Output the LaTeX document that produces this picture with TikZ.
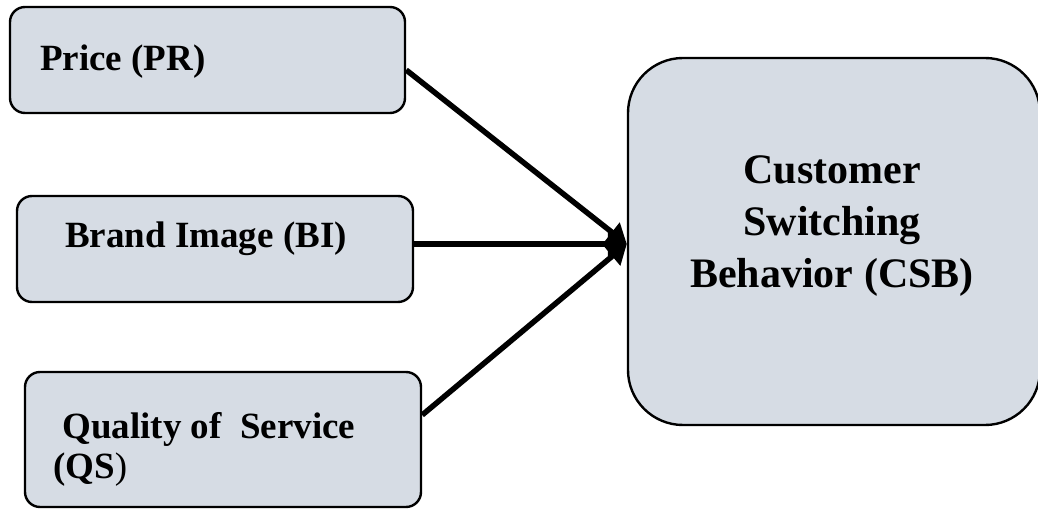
\documentclass[tikz,border=0pt]{standalone}
\usepackage{fontspec}
\setmainfont{Liberation Serif}
\usetikzlibrary{arrows.meta}
\definecolor{boxfill}{HTML}{D6DCE4}
\begin{document}
\begin{tikzpicture}[x=1pt,y=-1pt,
  box/.style={draw=black, line width=2.4pt, fill=boxfill, rounded corners=15pt, inner sep=0pt},
  lbl/.style={inner sep=0pt, anchor=base west, align=left, font=\fontsize{37}{40}\selectfont\bfseries},
  biglbl/.style={inner sep=0pt, anchor=base, align=center, font=\fontsize{42}{52}\selectfont\bfseries},
  conn/.style={line width=5.5pt, -{Triangle[length=19pt,width=24pt]}}]
\useasboundingbox (0,0) rectangle (1038,510);
\node[box, minimum width=395pt, minimum height=106pt] (pr) at (207.5,60) {};
\node[box, minimum width=396pt, minimum height=106pt] (bi) at (215,249) {};
\node[box, minimum width=396pt, minimum height=135pt] (qs) at (223,439.5) {};
\node[box, rounded corners=55pt, minimum width=412pt, minimum height=367pt] (csb) at (834,241.5) {};
\node[lbl] (prt) at (40,71) {Price (PR)};
\node[lbl] (bit) at (65,248) {Brand Image (BI)};
\node[lbl] (qst) at (53,478) {\hspace*{0.25em}Quality of\hspace*{0.5em}Service\\(QS\textmd{)}};
\node[biglbl] (csbt) at (832,288) {Customer\\Switching\\Behavior (CSB)};
\coordinate (tip) at ([yshift=-2.5pt]csb.west);
\draw[conn] ([yshift=-10pt]pr.east) -- (tip);
\draw[conn] (bi.east |- tip) -- (tip);
\draw[conn] ([yshift=24.5pt]qs.east) -- (tip);
\end{tikzpicture}
\end{document}
